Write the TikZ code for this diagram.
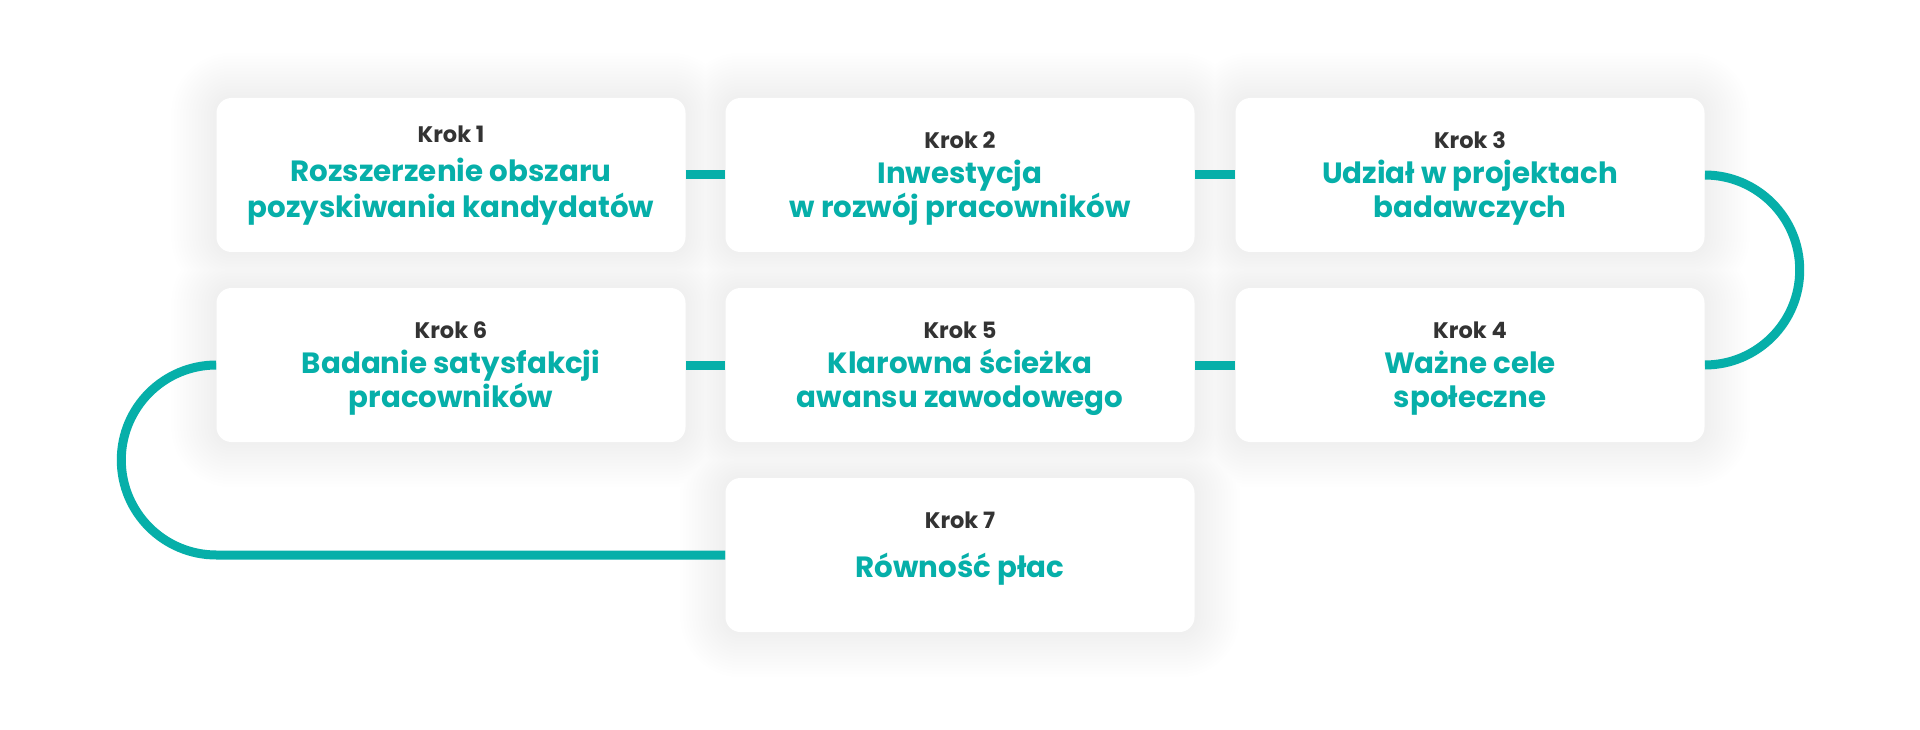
\documentclass[tikz,border=0pt]{standalone}
\usepackage{fontspec}
\newfontfamily\popfont{Poppins}
\usetikzlibrary{calc}
\pgfdeclarelayer{bglayer}
\pgfdeclarelayer{shadowlayer}
\pgfdeclarelayer{linelayer}
\pgfsetlayers{bglayer,shadowlayer,linelayer,main}
\definecolor{teal1}{HTML}{06AFA9}
\definecolor{dark1}{HTML}{333333}
\tikzset{
  card/.style={rectangle, rounded corners=15pt, fill=white, minimum width=469pt, minimum height=154pt, inner sep=0pt},
  kroklabel/.style={anchor=base, text=dark1, font=\popfont\bfseries\fontsize{22.5}{28}\selectfont, inner sep=0pt},
  titlelabel/.style={anchor=base, text=teal1, font=\popfont\bfseries\fontsize{29.3}{34}\selectfont, inner sep=0pt},
  link/.style={draw=teal1, line width=9pt},
}
\begin{document}
\begin{tikzpicture}[x=1pt,y=-1pt]
\begin{pgfonlayer}{bglayer}
\fill[white] (0,0) rectangle (1920,730);
\end{pgfonlayer}
\useasboundingbox (0,0) rectangle (1920,730);

\node[card] (b1) at (451,175) {};
\node[card] (b2) at (960,175) {};
\node[card] (b3) at (1470,175) {};
\node[card] (b4) at (1470,365) {};
\node[card] (b5) at (960,365) {};
\node[card] (b6) at (451,365) {};
\node[card] (b7) at (960,555) {};

\begin{pgfonlayer}{shadowlayer}
\foreach \d [evaluate=\d as \r using 15+\d] in {3,6,...,45} {
  \fill[black, opacity=0.0042, rounded corners=\r pt]
    \foreach \b in {b1,b2,b3,b4,b5,b6,b7} {
      ($(\b.south west)+(-\d,\d)$) rectangle ($(\b.north east)+(\d,-\d)$)
    };
}
\end{pgfonlayer}

\begin{pgfonlayer}{linelayer}
\draw[link] (b1.east) -- (b2.west);
\draw[link] (b2.east) -- (b3.west);
\draw[link] (b3.east) arc[start angle=-90, end angle=90, radius=95];
\draw[link] (b4.west) -- (b5.east);
\draw[link] (b5.west) -- (b6.east);
\draw[link] (b6.west) arc[start angle=-90, end angle=-270, radius=95] -- (b7.west);
\end{pgfonlayer}

\node[kroklabel] (k1) at ($(b1.north)+(0,45)$) {Krok 1};
\node[titlelabel] (t1a) at ($(b1.north)+(0,84)$) {Rozszerzenie obszaru};
\node[titlelabel] (t1b) at ($(b1.north)+(0,120)$) {pozyskiwania kandydatów};

\node[kroklabel] (k2) at ($(b2.north)+(0,51)$) {Krok 2};
\node[titlelabel] (t2a) at ($(b2.north)+(0,86)$) {Inwestycja};
\node[titlelabel] (t2b) at ($(b2.north)+(0,120)$) {w rozwój pracowników};

\node[kroklabel] (k3) at ($(b3.north)+(0,51)$) {Krok 3};
\node[titlelabel] (t3a) at ($(b3.north)+(0,86)$) {Udział w projektach};
\node[titlelabel] (t3b) at ($(b3.north)+(0,120)$) {badawczych};

\node[kroklabel] (k4) at ($(b4.north)+(0,51)$) {Krok 4};
\node[titlelabel] (t4a) at ($(b4.north)+(0,86)$) {Ważne cele};
\node[titlelabel] (t4b) at ($(b4.north)+(0,120)$) {społeczne};

\node[kroklabel] (k5) at ($(b5.north)+(0,51)$) {Krok 5};
\node[titlelabel] (t5a) at ($(b5.north)+(0,86)$) {Klarowna ścieżka};
\node[titlelabel] (t5b) at ($(b5.north)+(0,120)$) {awansu zawodowego};

\node[kroklabel] (k6) at ($(b6.north)+(0,51)$) {Krok 6};
\node[titlelabel] (t6a) at ($(b6.north)+(0,86)$) {Badanie satysfakcji};
\node[titlelabel] (t6b) at ($(b6.north)+(0,120)$) {pracowników};

\node[kroklabel] (k7) at ($(b7.north)+(0,51)$) {Krok 7};
\node[titlelabel] (t7a) at ($(b7.north)+(0,100)$) {Równość płac};
\end{tikzpicture}
\end{document}
